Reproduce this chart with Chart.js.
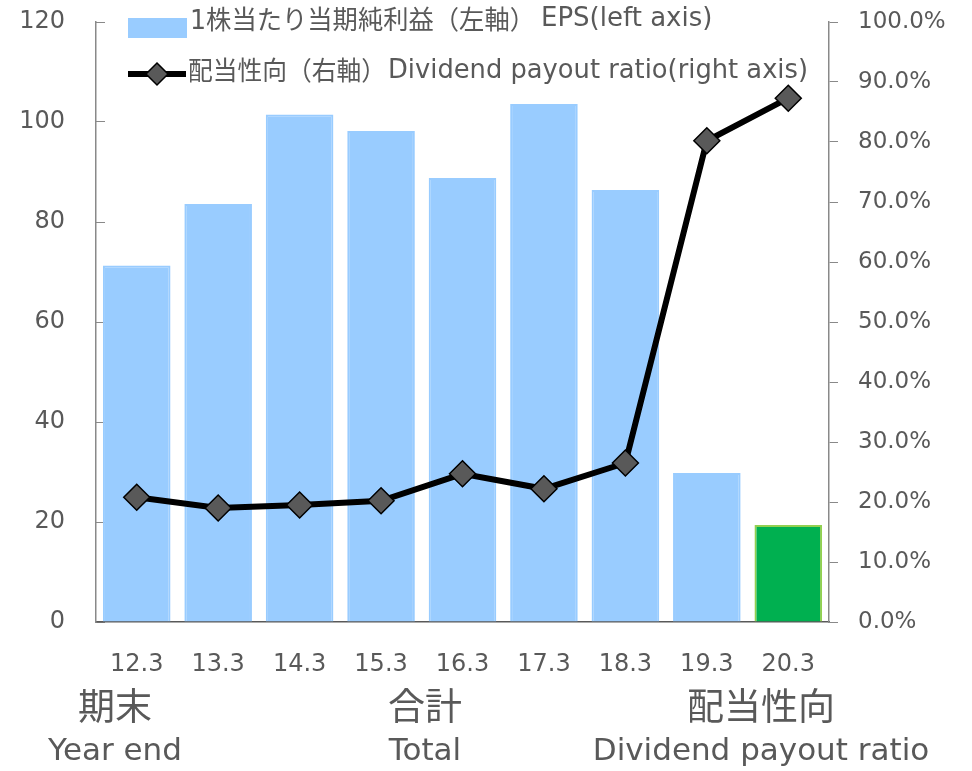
<!DOCTYPE html>
<html>
<head>
<meta charset="utf-8">
<script src="https://cdn.jsdelivr.net/npm/chart.js@4"></script>
<style>
  body { margin: 0; background: #fff; }
  .wrap { position: relative; width: 972px; height: 771px; }
</style>
</head>
<body>
<div class="wrap"><canvas id="myChart"></canvas></div>
<script>
const labels = ["12.3", "13.3", "14.3", "15.3", "16.3", "17.3", "18.3", "19.3", "20.3"];
const eps = [71.3, 83.6, 101.5, 98.2, 88.8, 103.6, 86.4, 29.8, 19.4];
const payout = [20.8, 19.0, 19.5, 20.2, 24.7, 22.2, 26.5, 80.2, 87.3];
const barColors = ["#99CCFF", "#99CCFF", "#99CCFF", "#99CCFF", "#99CCFF", "#99CCFF", "#99CCFF", "#99CCFF", "#00B050"];
const barBorders = ["#99CCFF", "#99CCFF", "#99CCFF", "#99CCFF", "#99CCFF", "#99CCFF", "#99CCFF", "#99CCFF", "#92D050"];

const FONT = '"DejaVu Sans", "Noto Sans CJK JP", sans-serif';
const TEXT = "#595959";

// legend + bottom captions drawn on the canvas
const extras = {
    id: "extras",
    afterDraw(chart) {
        const ctx = chart.ctx;
        ctx.save();
        ctx.fillStyle = TEXT;
        ctx.textBaseline = "middle";
        ctx.textAlign = "left";

        // legend row 1
        ctx.fillStyle = "#99CCFF";
        ctx.fillRect(128, 18, 59, 20);
        ctx.fillStyle = TEXT;
        ctx.font = "26px " + FONT;
        ctx.fillText("1株当たり当期純利益（左軸）", 190, 22, 345);
        ctx.fillText("EPS(left axis)", 541, 19, 182);

        // legend row 2
        ctx.strokeStyle = "#000";
        ctx.lineWidth = 6;
        ctx.beginPath();
        ctx.moveTo(128, 74);
        ctx.lineTo(186, 74);
        ctx.stroke();
        ctx.fillStyle = "#595959";
        ctx.lineWidth = 1.5;
        ctx.beginPath();
        ctx.moveTo(157, 63);
        ctx.lineTo(168, 74);
        ctx.lineTo(157, 85);
        ctx.lineTo(146, 74);
        ctx.closePath();
        ctx.fill();
        ctx.stroke();
        ctx.fillStyle = TEXT;
        ctx.fillText("配当性向（右軸）", 188, 73, 198);
        ctx.fillText("Dividend payout ratio(right axis)", 388, 71, 420);

        // bottom captions
        ctx.textAlign = "center";
        ctx.font = "37px " + FONT;
        ctx.fillText("期末", 115, 710);
        ctx.fillText("合計", 425, 710);
        ctx.fillText("配当性向", 761, 710);
        ctx.font = "31px " + FONT;
        ctx.fillText("Year end", 115, 752);
        ctx.fillText("Total", 425, 752);
        ctx.fillText("Dividend payout ratio", 761, 752);
        ctx.restore();
    }
};

const data = {
    labels: labels,
    datasets: [
        {
            type: "line",
            label: "配当性向（右軸）Dividend payout ratio(right axis)",
            data: payout,
            yAxisID: "y1",
            borderColor: "#000",
            borderWidth: 6,
            pointStyle: "rectRot",
            pointRadius: 13,
            pointBackgroundColor: "#595959",
            pointBorderColor: "#000",
            pointBorderWidth: 1.5,
            tension: 0,
            order: 0,
        },
        {
            type: "bar",
            label: "1株当たり当期純利益（左軸）EPS(left axis)",
            data: eps,
            yAxisID: "y",
            backgroundColor: barColors,
            borderColor: barBorders,
            borderWidth: 2,
            barPercentage: 0.83,
            categoryPercentage: 1,
            order: 1,
        },
    ],
};

// keep the tick label padding from pushing the plot area down
function fixVertical(width) {
    return function (s) {
        s.width = width;
        s.paddingTop = 0;
        s.paddingBottom = 0;
    };
}

const config = {
    data: data,
    options: {
        responsive: true,
        maintainAspectRatio: false,
        animation: false,
        layout: { autoPadding: false, padding: { top: 22, left: 0, right: 0, bottom: 0 } },
        plugins: {
            legend: { display: false },
            tooltip: { enabled: false },
        },
        scales: {
            x: {
                grid: { display: false, drawTicks: false },
                border: { color: "#595959", width: 1.5 },
                ticks: { color: TEXT, font: { family: FONT, size: 24 }, padding: 28, maxRotation: 0 },
                afterFit(s) { s.height = 149; },
            },
            y: {
                position: "left",
                min: 0,
                max: 120,
                ticks: { stepSize: 20, color: TEXT, font: { family: FONT, size: 24 }, padding: 40 },
                grid: { drawOnChartArea: false, tickLength: -9, color: "#898989" },
                border: { color: "#898989", width: 1.5 },
                afterFit: fixVertical(96),
            },
            y1: {
                position: "right",
                min: 0,
                max: 100,
                ticks: {
                    stepSize: 10,
                    color: TEXT,
                    font: { family: FONT, size: 23 },
                    padding: 20,
                    callback: (v) => v.toFixed(1) + "%",
                },
                grid: { drawOnChartArea: false, tickLength: 9, color: "#898989" },
                border: { color: "#898989", width: 1.5 },
                afterFit: fixVertical(143),
            },
        },
    },
    plugins: [extras],
};

const myChart = new Chart(document.getElementById("myChart"), config);
</script>
</body>
</html>
